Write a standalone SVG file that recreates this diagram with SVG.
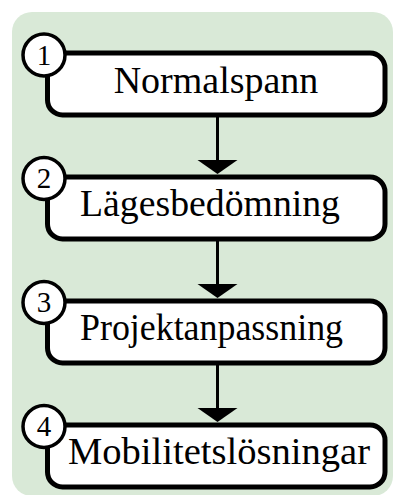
<svg xmlns="http://www.w3.org/2000/svg" width="394" height="495" viewBox="0 0 394 495">
  <defs>
    <style>
      .panel { fill: #d9e9d7; }
      .box { fill: #ffffff; stroke: #000000; stroke-width: 5; }
      .num { fill: #ffffff; stroke: #000000; stroke-width: 3.5; }
      .label { font-family: "Liberation Serif", "Times New Roman", serif; font-size: 38px; fill: #000000; text-anchor: middle; }
      .digit { font-family: "Liberation Serif", "Times New Roman", serif; font-size: 29px; fill: #000000; text-anchor: middle; }
      .link { stroke: #000000; stroke-width: 3; fill: none; }
      .head { fill: #000000; }
    </style>
  </defs>

  <!-- background panel -->
  <rect class="panel" x="12" y="12" width="381" height="484" rx="20" ry="20"/>

  <!-- connectors -->
  <g id="connectors">
    <line class="link" x1="217.5" y1="115" x2="217.5" y2="162"/>
    <polygon class="head" points="197.5,160 237.5,160 217.5,174"/>
    <line class="link" x1="217.5" y1="239" x2="217.5" y2="286"/>
    <polygon class="head" points="197.5,284 237.5,284 217.5,298"/>
    <line class="link" x1="217.5" y1="363" x2="217.5" y2="410"/>
    <polygon class="head" points="197.5,408 237.5,408 217.5,422"/>
  </g>

  <!-- step 1 -->
  <g id="step1">
    <rect class="box" x="47.5" y="53" width="337.5" height="62" rx="15" ry="15"/>
    <circle class="num" cx="44" cy="55" r="21"/>
    <text class="digit" x="44" y="64.5">1</text>
    <text class="label" x="216" y="92.5">Normalspann</text>
  </g>

  <!-- step 2 -->
  <g id="step2">
    <rect class="box" x="47.5" y="177" width="337.5" height="62" rx="15" ry="15"/>
    <circle class="num" cx="44" cy="178.5" r="21"/>
    <text class="digit" x="44" y="188">2</text>
    <text class="label" x="210" y="216" textLength="260" lengthAdjust="spacingAndGlyphs">Lägesbedömning</text>
  </g>

  <!-- step 3 -->
  <g id="step3">
    <rect class="box" x="47.5" y="301" width="337.5" height="62" rx="15" ry="15"/>
    <circle class="num" cx="44" cy="302.5" r="21"/>
    <text class="digit" x="44" y="312">3</text>
    <text class="label" x="211.5" y="340" textLength="263" lengthAdjust="spacingAndGlyphs">Projektanpassning</text>
  </g>

  <!-- step 4 -->
  <g id="step4">
    <rect class="box" x="47.5" y="425" width="337.5" height="62" rx="15" ry="15"/>
    <circle class="num" cx="44" cy="426.5" r="21"/>
    <text class="digit" x="44" y="436">4</text>
    <text class="label" x="219" y="464" textLength="302" lengthAdjust="spacingAndGlyphs">Mobilitetslösningar</text>
  </g>
</svg>
